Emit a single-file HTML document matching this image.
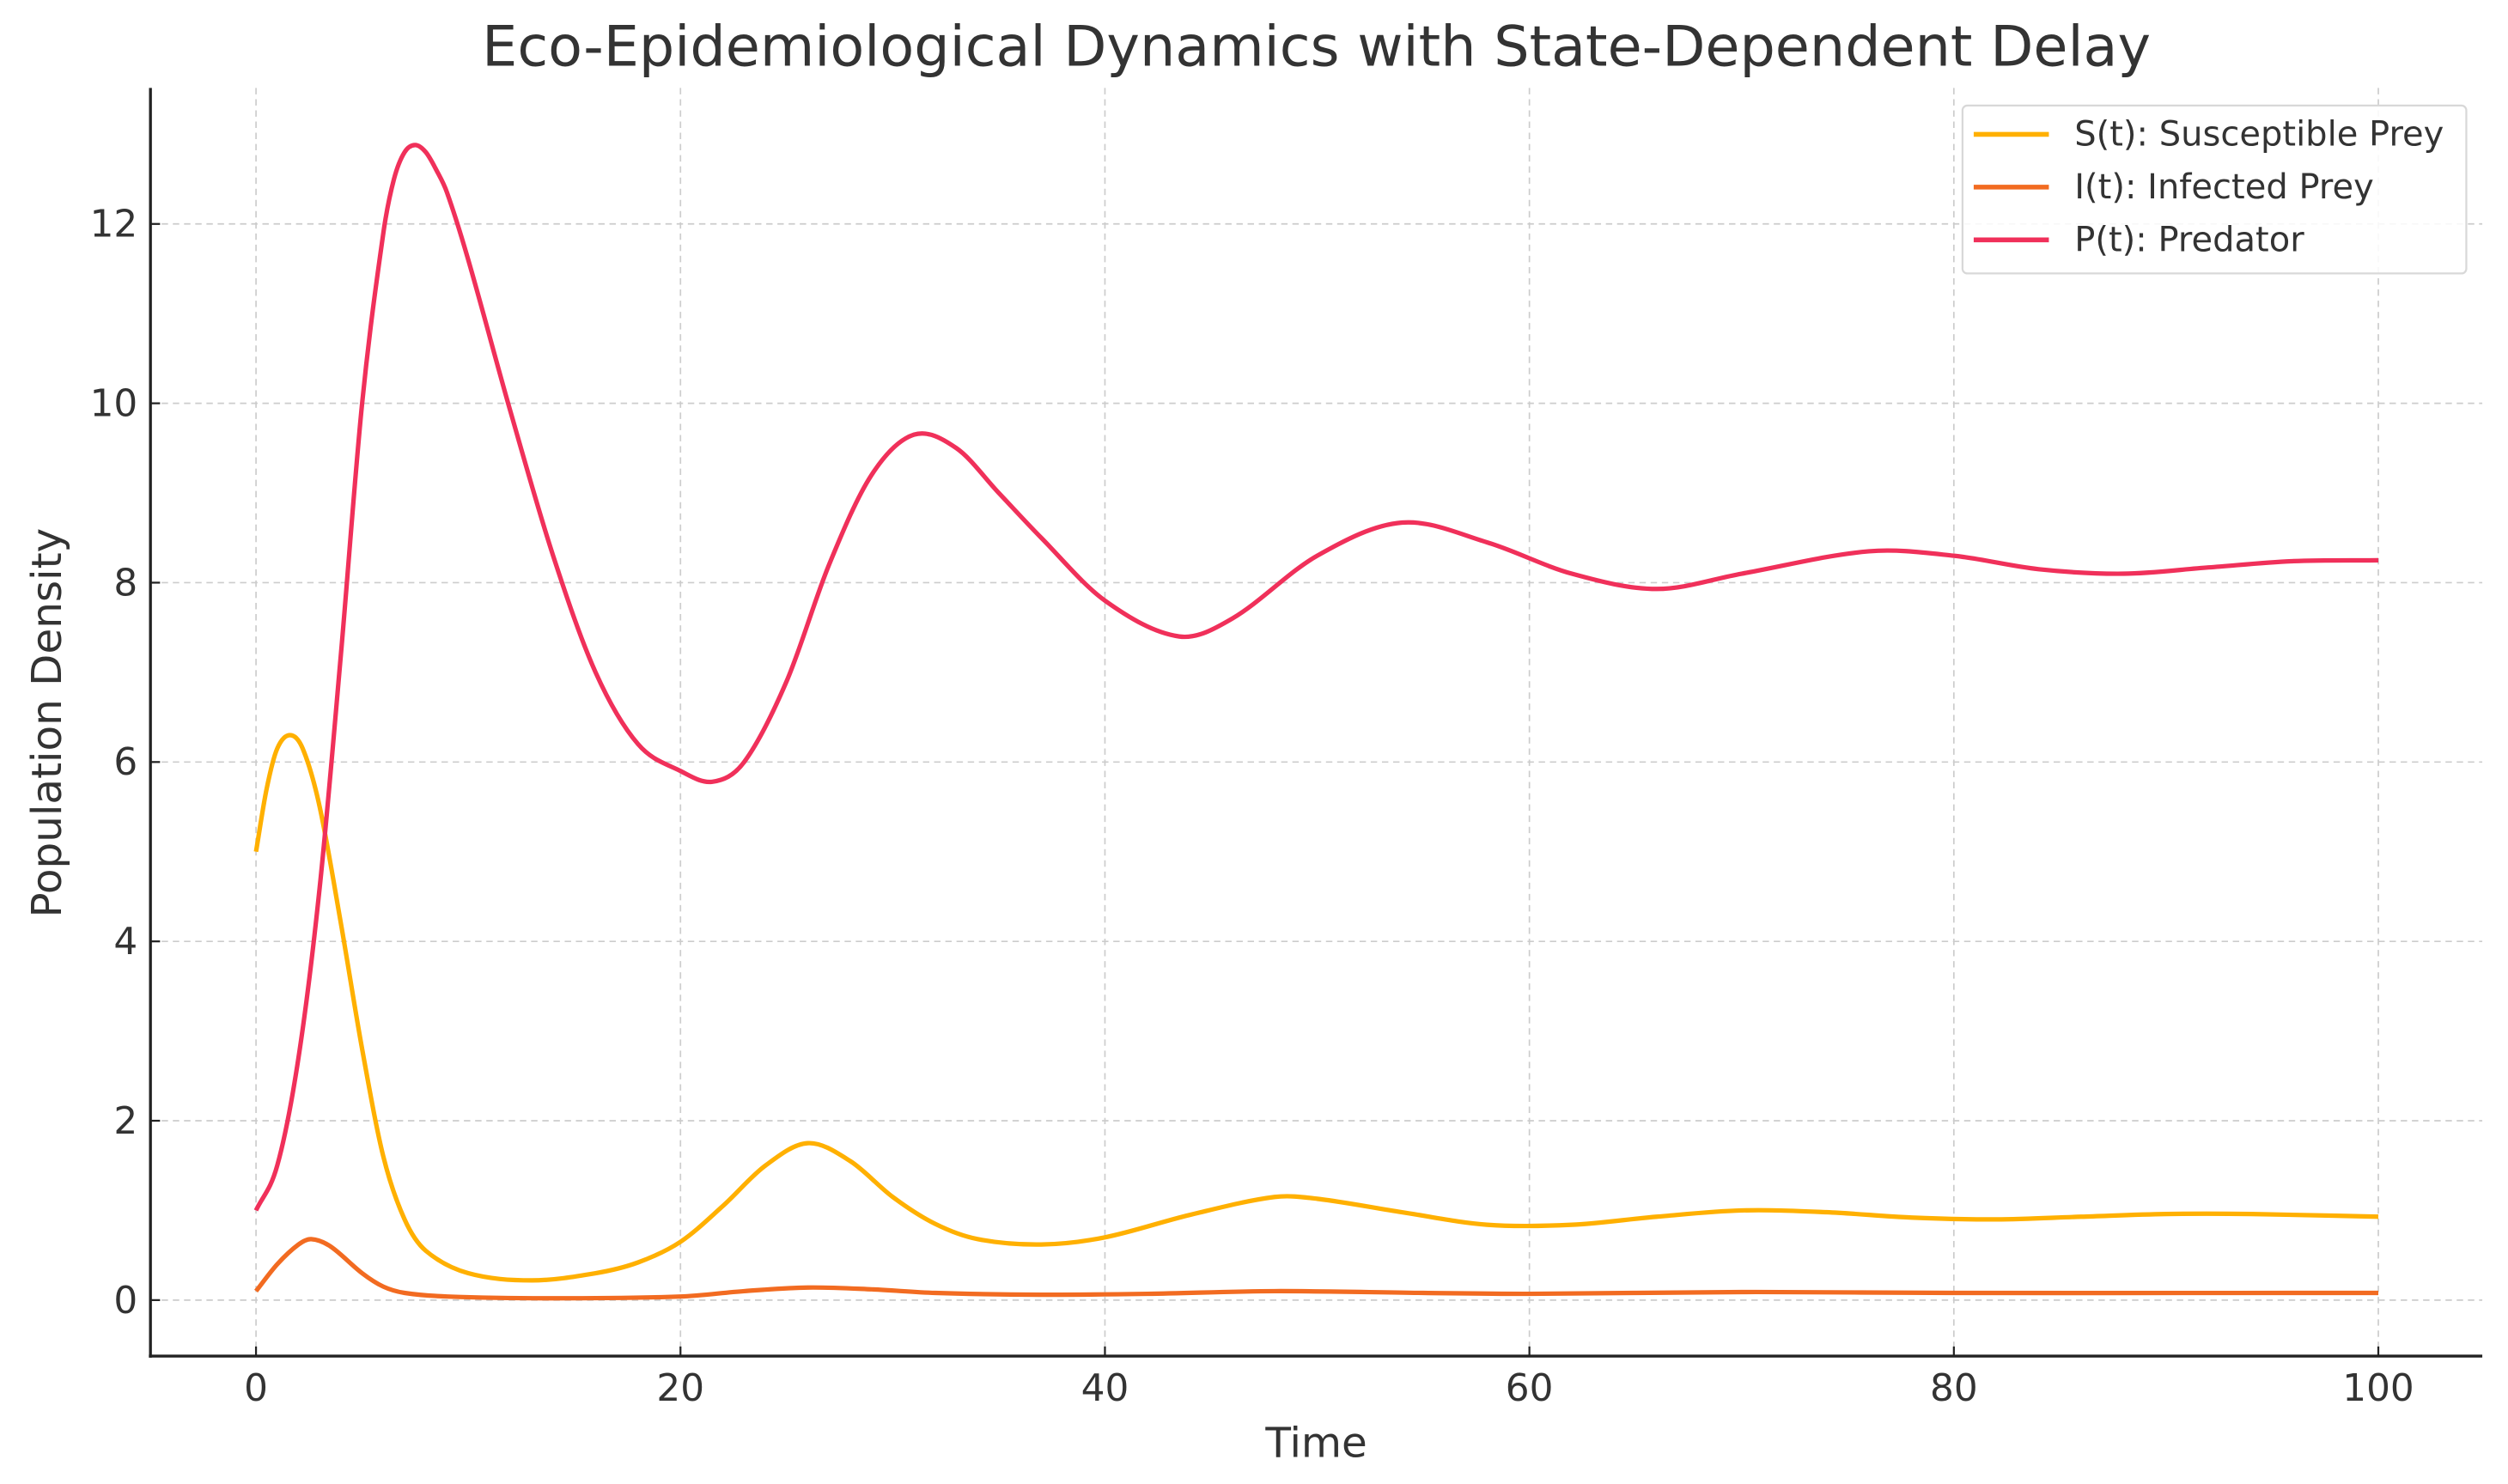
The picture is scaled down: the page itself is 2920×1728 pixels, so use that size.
<!DOCTYPE html>
<html><head><meta charset="utf-8"><style>html,body{margin:0;padding:0;background:#fff}svg{display:block}text{font-family:"DejaVu Sans","Liberation Sans",sans-serif;fill:#333}</style></head>
<body>
<svg id="chart" width="2920" height="1728" viewBox="0 0 1568 928" xmlns="http://www.w3.org/2000/svg">
<text x="823" y="41" font-size="35" text-anchor="middle">Eco-Epidemiological Dynamics with State-Dependent Delay</text>
<g id="grid"></g><g id="series"></g><g id="axes"></g>
<text x="823" y="911" font-size="26" text-anchor="middle">Time</text>
<text x="0" y="0" font-size="26" text-anchor="middle" transform="translate(38,452) rotate(-90)">Population Density</text>
<g>
<rect x="1227" y="66" width="315" height="105" rx="3" fill="#fff" fill-opacity="0.85" stroke="#d8d8d8" stroke-width="1.2"/>
<line x1="1234" y1="84" x2="1281" y2="84" stroke="#FFB000" stroke-width="3"/>
<text x="1297" y="91" font-size="21.5">S(t): Susceptible Prey</text>
<line x1="1234" y1="117" x2="1281" y2="117" stroke="#F26B21" stroke-width="3"/>
<text x="1297" y="124" font-size="21.5">I(t): Infected Prey</text>
<line x1="1234" y1="150" x2="1281" y2="150" stroke="#F0305A" stroke-width="3"/>
<text x="1297" y="157" font-size="21.5">P(t): Predator</text>
</g>
</svg>
<script>
const xTicks=[0,20,40,60,80,100];
const yTicks=[0,2,4,6,8,10,12];
const sT=[0,0.5,1,1.6,2.2,3,4,5,6,7,8,10,13,16,18,20,22,24,26,28,30,32,34,37,40,44,48,50,54,58,62,66,70,74,78,82,86,90,94,100];
const sV=[5,5.7,6.15,6.3,6.15,5.5,4.2,2.8,1.6,0.9,0.55,0.3,0.22,0.3,0.42,0.65,1.05,1.5,1.75,1.55,1.15,0.85,0.68,0.62,0.7,0.95,1.15,1.13,0.98,0.84,0.84,0.93,1.0,0.98,0.92,0.9,0.93,0.96,0.96,0.93];
const iT=[0,1,2,2.6,3.5,5,6,7,9,14,20,23,26,29,32,37,42,48,55,60,70,80,100];
const iV=[0.1,0.4,0.62,0.68,0.6,0.3,0.15,0.08,0.04,0.02,0.04,0.1,0.14,0.12,0.08,0.06,0.07,0.1,0.08,0.07,0.09,0.08,0.08];
const pT=[0,1,2,3,4,5,6,6.5,7,7.5,8,8.5,9,10,12,14,16,18,20,21.5,23,25,27,29,31,33,35,37,40,43.5,46,50,54,58,62,66,70,76,80,84,88,92,96,100];
const pV=[1,1.5,2.7,4.6,7.2,10,11.9,12.5,12.8,12.88,12.8,12.6,12.35,11.6,9.9,8.3,7.0,6.2,5.9,5.78,6.0,6.9,8.2,9.2,9.65,9.5,9.0,8.5,7.8,7.4,7.6,8.3,8.67,8.45,8.1,7.93,8.1,8.35,8.3,8.15,8.1,8.17,8.24,8.25];
const NS='http://www.w3.org/2000/svg';
const X=t=>160+t*13.27, Y=v=>813-v*56.08;
function mk(tag,attrs,parent){const e=document.createElementNS(NS,tag);for(const k in attrs)e.setAttribute(k,attrs[k]);parent.appendChild(e);return e;}
const grid=document.getElementById('grid'),axes=document.getElementById('axes'),ser=document.getElementById('series');
xTicks.forEach(t=>{
 const g=mk('line',{x1:X(t),x2:X(t),y1:55,y2:848,stroke:'#ccc','stroke-width':0.9,'stroke-dasharray':'4 3'},grid);
 
 
 mk('line',{x1:X(t),x2:X(t),y1:848,y2:842,stroke:'#222','stroke-width':1.2},axes);
 const l=mk('text',{x:X(t),y:876,'font-size':23.5,'text-anchor':'middle'},axes);l.textContent=t;
 
 
});
yTicks.forEach(v=>{
 const g=mk('line',{x1:94,x2:1552,y1:Y(v),y2:Y(v),stroke:'#ccc','stroke-width':0.9,'stroke-dasharray':'4 3'},grid);
 
 
 mk('line',{x1:94,x2:100,y1:Y(v),y2:Y(v),stroke:'#222','stroke-width':1.2},axes);
 const l=mk('text',{x:86,y:Y(v)+8,'font-size':23.5,'text-anchor':'end'},axes);l.textContent=v;
 
 
});
const la=mk('line',{x1:94,x2:94,y1:55,y2:849,stroke:'#222','stroke-width':1.8},axes);


const ba=mk('line',{x1:93,x2:1552,y1:848,y2:848,stroke:'#222','stroke-width':1.8},axes);


function path(ts,vs){
 const p=ts.map((t,i)=>[X(t),Y(vs[i])]);let d='M'+p[0][0]+','+p[0][1];
 for(let i=0;i<p.length-1;i++){const p0=p[Math.max(0,i-1)],p1=p[i],p2=p[i+1],p3=p[Math.min(p.length-1,i+2)];
  const h=p2[0]-p1[0];
  const m1=(p2[1]-p0[1])/(p2[0]-p0[0]||1), m2=(p3[1]-p1[1])/(p3[0]-p1[0]||1);
  d+=` C${p1[0]+h/3},${p1[1]+m1*h/3} ${p2[0]-h/3},${p2[1]-m2*h/3} ${p2[0]},${p2[1]}`;}
 return d;}
const ls=mk('path',{d:path(sT,sV),fill:'none',stroke:'#FFB000','stroke-width':2.8},ser);


const li=mk('path',{d:path(iT,iV),fill:'none',stroke:'#F26B21','stroke-width':2.8},ser);


const lp=mk('path',{d:path(pT,pV),fill:'none',stroke:'#F0305A','stroke-width':2.8},ser);


</script>
</body></html>
